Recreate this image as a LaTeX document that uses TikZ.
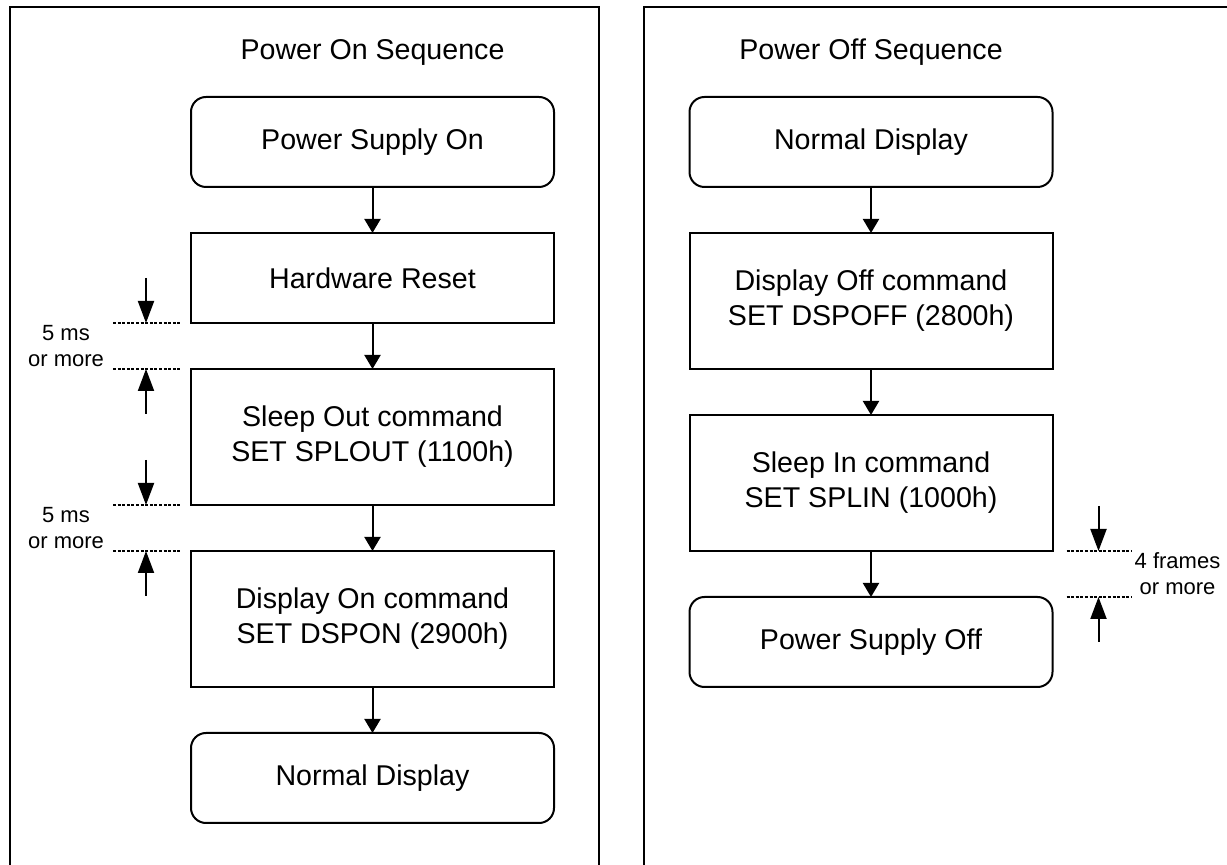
\documentclass[tikz,border=0pt]{standalone}
\usepackage{fontspec}
\setmainfont{Liberation Sans}
\usetikzlibrary{arrows.meta,positioning,calc}
\begin{document}
\begin{tikzpicture}[x=0.5pt,y=-0.5pt,>={Triangle[length=7pt,width=8pt]},node distance=23pt,line width=1pt,every node/.style={font=\fontsize{14.3}{17.5}\selectfont},box/.style={draw,minimum width=181.5pt,minimum height=45pt,align=center,inner sep=0pt,outer sep=0pt},tall/.style={box,minimum height=68pt},term/.style={box,rounded corners=7.5pt},gap/.style={dash pattern=on 1.5pt off 0.8pt},dim/.style={-{Triangle[length=11pt,width=8pt]}},note/.style={font=\fontsize{11}{13}\selectfont,align=center}]
\useasboundingbox (0,0) rectangle (1227,865);
% panels
\draw (10,865) -- (10,7) -- (599,7) -- (599,865);
\draw (644,865) -- (644,7) -- (1227,7);
\node (ontitle) at (372.5,52) {Power On Sequence};
\node (offtitle) at (871,52) {Power Off Sequence};
% power on
\node[term] (on1) at (372.5,142) {Power Supply On};
\node[box,below=of on1] (on2) {Hardware Reset};
\node[tall,below=of on2] (on3) {Sleep Out command\\SET SPLOUT (1100h)};
\node[tall,below=of on3] (on4) {Display On command\\SET DSPON (2900h)};
\node[term,below=of on4] (on5) {Normal Display};
\foreach \a/\b in {on1/on2,on2/on3,on3/on4,on4/on5} \draw[->] (\a) -- (\b);
% power off
\node[term] (off1) at (871,142) {Normal Display};
\node[tall,below=of off1] (off2) {Display Off command\\SET DSPOFF (2800h)};
\node[tall,below=of off2] (off3) {Sleep In command\\SET SPLIN (1000h)};
\node[term,below=of off3] (off4) {Power Supply Off};
\foreach \a/\b in {off1/off2,off2/off3,off3/off4} \draw[->] (\a) -- (\b);
% wait times
\foreach \u/\l in {on2/on3,on3/on4}{
  \draw[gap] ([xshift=-39pt]\u.south west) -- ([xshift=-5.5pt]\u.south west);
  \draw[gap] ([xshift=-39pt]\l.north west) -- ([xshift=-5.5pt]\l.north west);
  \draw[dim] ([shift={(-22.5pt,22.5pt)}]\u.south west) -- ([xshift=-22.5pt]\u.south west);
  \draw[dim] ([shift={(-22.5pt,-22.5pt)}]\l.north west) -- ([xshift=-22.5pt]\l.north west);
  \node[note] at ($($(\u.south west)!0.5!(\l.north west)$)+(-62.5pt,0)$) {5 ms\\or more};
}
\draw[gap] ([xshift=7pt]off3.south east) -- ([xshift=39.5pt]off3.south east);
\draw[gap] ([xshift=7pt]off4.north east) -- ([xshift=39.5pt]off4.north east);
\draw[dim] ([shift={(23pt,22.5pt)}]off3.south east) -- ([xshift=23pt]off3.south east);
\draw[dim] ([shift={(23pt,-22.5pt)}]off4.north east) -- ([xshift=23pt]off4.north east);
\node[note] (frames) at ($($(off3.south east)!0.5!(off4.north east)$)+(62.5pt,0)$) {4 frames\\or more};
\end{tikzpicture}
\end{document}
